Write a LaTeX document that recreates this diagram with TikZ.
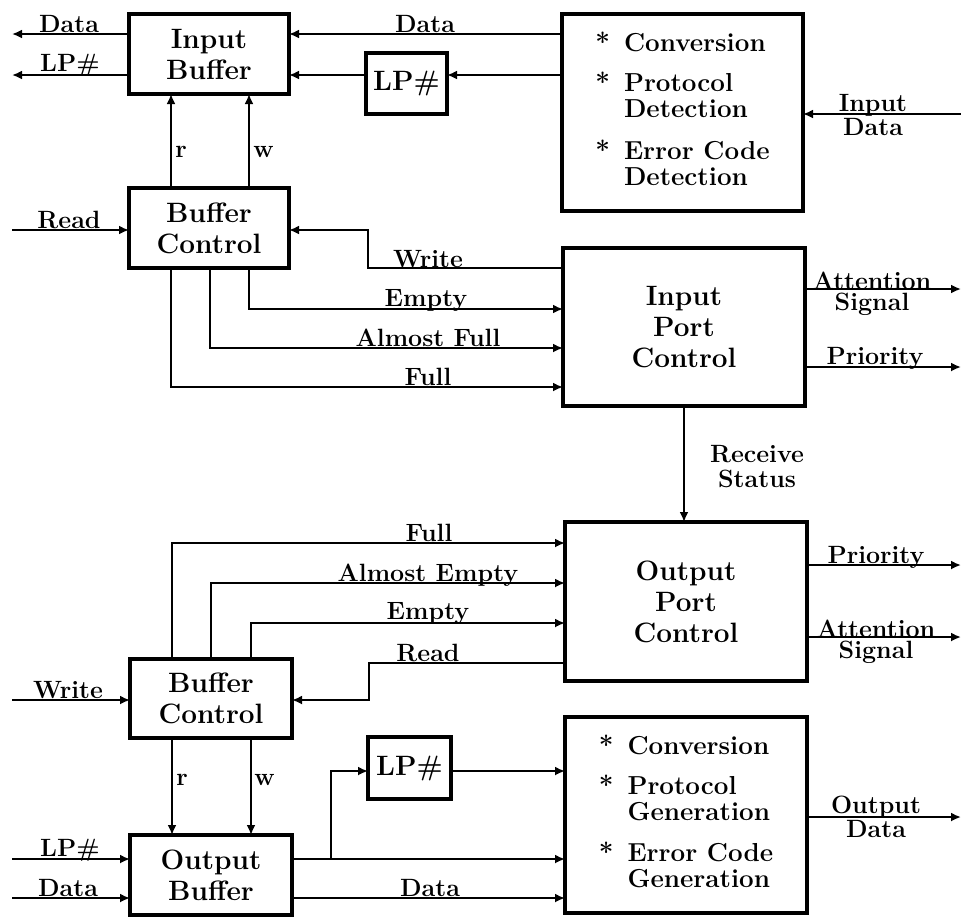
\documentclass[tikz,border=0pt]{standalone}
\usepackage{tikz}
\usetikzlibrary{positioning, arrows.meta, calc}

\newcommand{\blkfont}{\fontsize{14}{15.5}\selectfont\bfseries}
\newcommand{\listfont}{\fontsize{13}{13}\selectfont\bfseries}
\newcommand{\sigfont}{\fontsize{12.5}{12.5}\selectfont\bfseries}
\newcommand{\sigtight}{\fontsize{12.5}{10.5}\selectfont\bfseries}

\tikzset{
  blk/.style={draw, line width=1.6pt, inner sep=0pt, outer sep=0pt, align=center, font=\blkfont},
  sig/.style={line width=1.4pt, -{Latex[length=5pt,width=4.5pt]}},
  lbl/.style={inner sep=0pt, anchor=base, align=center, font=\sigfont},
  lbltwo/.style={lbl, font=\sigtight},
  rwlbl/.style={inner sep=0pt, anchor=base west, font=\sigfont},
}

\begin{document}
\begin{tikzpicture}[x=0.5pt, y=-0.5pt]
  \useasboundingbox (0,0) rectangle (961,918);

  % input side blocks
  \node[blk, minimum width=80pt, minimum height=40pt] (ibuf) at (209,54) {Input\\Buffer};
  \node[blk, minimum width=80pt, minimum height=40pt] (bctl1) at (209,228) {Buffer\\Control};
  \node[blk, minimum width=40.5pt, minimum height=30.5pt] (lp1) at (406.5,83.5) {LP\#};
  \node[blk, minimum width=120.5pt, minimum height=98.5pt, font=\listfont] (conv1) at (682.5,112.5)
    {\begin{tabular}{@{}l@{\hspace{7pt}}l@{}}
     * & Conversion\\[6.5pt]
     * & Protocol\\ & Detection\\[7pt]
     * & Error Code\\ & Detection
     \end{tabular}};
  \node[blk, minimum width=121pt, minimum height=79pt] (ipc) at (684,327) {Input\\Port\\Control};

  \coordinate (dout) at (12,34);
  \coordinate (lpout) at (12,75);
  \coordinate (rdin) at (12,230);
  \coordinate (indat) at (961,114);
  \coordinate (att1) at (961,289);
  \coordinate (pri1) at (961,367);

  \draw[sig] (ibuf.west |- dout) -- (dout);
  \draw[sig] (ibuf.west |- lpout) -- (lpout);
  \draw[sig] (conv1.west |- dout) -- (ibuf.east |- dout);
  \draw[sig] (conv1.west |- lpout) -- (lp1.east |- lpout);
  \draw[sig] (lp1.west |- lpout) -- (ibuf.east |- lpout);
  \draw[sig] (indat) -- (conv1.east |- indat);
  \draw[sig] (bctl1.north -| 171,0) -- (ibuf.south -| 171,0);
  \draw[sig] (bctl1.north -| 249,0) -- (ibuf.south -| 249,0);
  \draw[sig] (rdin) -- (bctl1.west |- rdin);
  \draw[sig] (ipc.west |- 0,268) -- (368,268) |- (bctl1.east |- rdin);
  \draw[sig] (bctl1.south -| 249,0) |- (ipc.west |- 0,309);
  \draw[sig] (bctl1.south -| 210,0) |- (ipc.west |- 0,348);
  \draw[sig] (bctl1.south -| 171,0) |- (ipc.west |- 0,387);
  \draw[sig] (ipc.east |- att1) -- (att1);
  \draw[sig] (ipc.east |- pri1) -- (pri1);

  \node[lbl] (tdout) at (69,32) {Data};
  \node[lbl] (tlpout) at (70,71) {LP\#};
  \node[lbl] (tdin) at (425,32) {Data};
  \node[lbltwo] (tindat) at (873,135) {Input\\Data};
  \node[rwlbl] (tr1) at (175,157) {r};
  \node[rwlbl] (tw1) at (253,157) {w};
  \node[lbl] (trd1) at (69,228) {Read};
  \node[lbl] (twr1) at (428,267) {Write};
  \node[lbl] (tem1) at (426,306) {Empty};
  \node[lbl] (taf1) at (428,346) {Almost Full};
  \node[lbl] (tfu1) at (428,385) {Full};
  \node[lbltwo] (tat1) at (872,310) {Attention\\Signal};
  \node[lbl] (tpr1) at (875,364) {Priority};

  % status between the two port controls
  \node[blk, minimum width=121pt, minimum height=79.5pt] (opc) at (686,601.5) {Output\\Port\\Control};
  \draw[sig] (ipc.south) -- (ipc.south |- opc.north);
  \node[lbl] (trs) at (757,487) {Receive\\Status};

  % output side blocks
  \node[blk, minimum width=81pt, minimum height=39.5pt] (bctl2) at (211,698.5) {Buffer\\Control};
  \node[blk, minimum width=81pt, minimum height=40pt] (obuf) at (211,875) {Output\\Buffer};
  \node[blk, minimum width=41.5pt, minimum height=31pt] (lp2) at (409.5,768) {LP\#};
  \node[blk, minimum width=121pt, minimum height=98pt, font=\listfont] (conv2) at (686,815)
    {\begin{tabular}{@{}l@{\hspace{7pt}}l@{}}
     * & Conversion\\[6.5pt]
     * & Protocol\\ & Generation\\[7pt]
     * & Error Code\\ & Generation
     \end{tabular}};

  \coordinate (wrin) at (12,700);
  \coordinate (lpin) at (12,859);
  \coordinate (din) at (12,898);
  \coordinate (split) at (331,859);
  \coordinate (pri2) at (961,565);
  \coordinate (att2) at (961,637);
  \coordinate (outdat) at (961,817);

  \draw[sig] (bctl2.north -| 172,0) |- (opc.west |- 0,543);
  \draw[sig] (bctl2.north -| 211,0) |- (opc.west |- 0,583);
  \draw[sig] (bctl2.north -| 251,0) |- (opc.west |- 0,623);
  \draw[sig] (opc.west |- 0,663) -- (369,663) |- (bctl2.east |- wrin);
  \draw[sig] (wrin) -- (bctl2.west |- wrin);
  \draw[sig] (bctl2.south -| 172,0) -- (obuf.north -| 172,0);
  \draw[sig] (bctl2.south -| 251,0) -- (obuf.north -| 251,0);
  \draw[sig] (lpin) -- (obuf.west |- lpin);
  \draw[sig] (din) -- (obuf.west |- din);
  \draw[sig] (obuf.east |- lpin) -- (conv2.west |- lpin);
  \draw[sig] (split) |- (lp2.west |- 0,771);
  \draw[sig] (lp2.east |- 0,771) -- (conv2.west |- 0,771);
  \draw[sig] (obuf.east |- din) -- (conv2.west |- din);
  \draw[sig] (opc.east |- pri2) -- (pri2);
  \draw[sig] (opc.east |- att2) -- (att2);
  \draw[sig] (conv2.east |- outdat) -- (outdat);

  \node[lbl] (tfu2) at (429,541) {Full};
  \node[lbl] (tae2) at (428,581) {Almost Empty};
  \node[lbl] (tem2) at (428,619) {Empty};
  \node[lbl] (trd2) at (428,661) {Read};
  \node[lbl] (twr2) at (68,698) {Write};
  \node[rwlbl] (tr2) at (176,785) {r};
  \node[rwlbl] (tw2) at (254,785) {w};
  \node[lbl] (tlpin) at (70,856) {LP\#};
  \node[lbl] (tdin2) at (68,896) {Data};
  \node[lbl] (tdat2) at (430,896) {Data};
  \node[lbl] (tpr2) at (876,563) {Priority};
  \node[lbltwo] (tat2) at (876,658) {Attention\\Signal};
  \node[lbltwo] (tout) at (876,837) {Output\\Data};
\end{tikzpicture}
\end{document}
